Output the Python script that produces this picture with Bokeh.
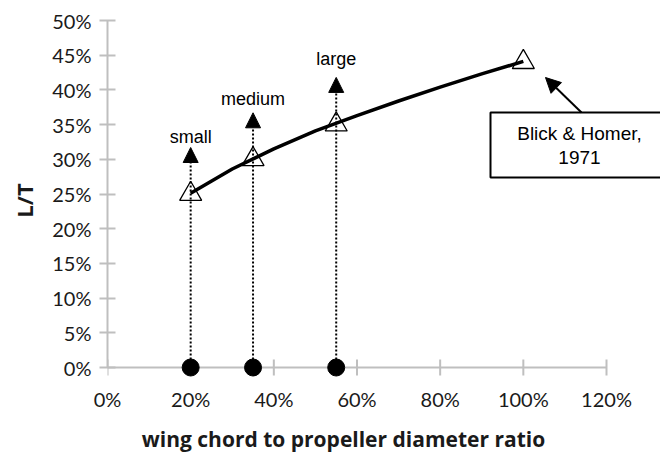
import math
from bokeh.plotting import figure
from bokeh.layouts import column
from bokeh.models import (Range1d, FixedTicker, NumeralTickFormatter, Arrow, NormalHead,
                          BoxAnnotation, Label, ColumnDataSource)
from bokeh.core.properties import value
from bokeh.embed import file_html
from bokeh.resources import INLINE

# ---------------- data ----------------
x_ticks = [0.0, 0.2, 0.4, 0.6, 0.8, 1.0, 1.2]
y_ticks = [0.0, 0.05, 0.10, 0.15, 0.20, 0.25, 0.30, 0.35, 0.40, 0.45, 0.50]

point_x = [0.20, 0.35, 0.55, 1.00]
point_y = [0.25, 0.30, 0.35, 0.44]

fit_x = [0.20, 0.30, 0.40, 0.50, 0.60, 0.70, 0.80, 0.90, 1.00]
fit_y = [0.251, 0.286, 0.315, 0.341, 0.363, 0.384, 0.404, 0.423, 0.441]

size_x = [0.20, 0.35, 0.55]
size_names = ["small", "medium", "large"]
arrow_tip_y = [0.317, 0.367, 0.418]

source_text = ["Blick & Homer,", "1971"]

x_title = "wing chord to propeller diameter ratio"
y_title = "L/T"

# ---------------- layout (pixels) ----------------
W, H = 660, 452
TH = 30                    # height of the strip holding the x title
MH = H - TH                # main figure height
X0PX, X12PX = 107, 606     # pixel of x=0 and x=1.2
Y0PX, Y50PX = 367, 20      # pixel of y=0 and y=0.5
FB = 380                   # frame bottom pixel
px_x = (X12PX - X0PX) / 1.2
px_y = (Y0PX - Y50PX) / 0.5
x_end = (W - X0PX) / px_x
y_start = -(FB - Y0PX) / px_y
name_offsets = [-11, -14, -18]   # label baseline offsets above arrow tips (px)
X_TITLE_CX = 343
X_TITLE_BASE_IN_STRIP = 14       # baseline height above the strip's bottom (px)


def dx(px):  # pixel -> data x
    return (px - X0PX) / px_x


def dy(py):  # pixel -> data y
    return (Y0PX - py) / px_y


GRAY = "#bfbfbf"
TXT = "#1a1a1a"
TICK_FONT = "Lato"
TITLE_FONT = "Open Sans"
ANN_FONT = "Liberation Sans"

x_range = Range1d(0, x_end)
p = figure(width=W, height=MH, x_range=x_range, y_range=Range1d(y_start, 0.5),
           output_backend="svg", toolbar_location=None,
           min_border_left=X0PX, min_border_right=0, min_border_top=Y50PX,
           min_border_bottom=MH - FB)
p.xgrid.visible = False
p.ygrid.visible = False
p.outline_line_color = None
p.background_fill_color = "white"
p.border_fill_color = "white"

# y axis
ya = p.yaxis[0]
ya.ticker = FixedTicker(ticks=y_ticks)
ya.formatter = NumeralTickFormatter(format="0%")
ya.bounds = (0, 0.5)
ya.axis_line_color = GRAY
ya.axis_line_width = 2
ya.major_tick_line_color = GRAY
ya.major_tick_line_width = 2
ya.major_tick_in = 8
ya.major_tick_out = 8
ya.minor_tick_line_color = None
ya.major_label_text_font = TICK_FONT
ya.major_label_text_font_size = "20px"
ya.major_label_text_color = TXT
ya.major_label_standoff = 8
ya.axis_label = y_title
ya.axis_label_text_font = TITLE_FONT
ya.axis_label_text_font_style = "bold"
ya.axis_label_text_font_size = "22px"
ya.axis_label_text_color = TXT
ya.axis_label_standoff = 10

# x axis (labels only; line and ticks drawn at y=0)
xa = p.xaxis[0]
xa.ticker = FixedTicker(ticks=x_ticks)
xa.formatter = NumeralTickFormatter(format="0%")
xa.axis_line_color = None
xa.major_tick_line_color = None
xa.minor_tick_line_color = None
xa.major_tick_in = 0
xa.major_tick_out = 0
xa.major_label_text_font = TICK_FONT
xa.major_label_text_font_size = "20px"
xa.major_label_text_color = TXT
xa.major_label_standoff = 6

p.line(x=[x_ticks[0], x_ticks[-1]], y=[0, 0], line_color=GRAY, line_width=2)
p.scatter(x=x_ticks, y=[0] * len(x_ticks), marker="dash", size=16, angle=math.pi / 2,
          line_color=GRAY, line_width=2)

# markers and curve
p.scatter(x=point_x, y=point_y, marker="triangle", size=22, fill_color="white",
          line_color="black", line_width=1.3)
p.line(x=fit_x, y=fit_y, line_color="black", line_width=3.5)
p.scatter(x=size_x, y=[0] * len(size_x), marker="circle", size=17, fill_color="black",
          line_color="black")

# dotted arrows
src = ColumnDataSource(dict(x=size_x, y0=[0] * len(size_x), y1=arrow_tip_y,
                            name=size_names, off=name_offsets))
p.add_layout(Arrow(end=NormalHead(size=15, fill_color="black", line_color="black", line_width=1),
                   x_start="x", y_start="y0", x_end="x", y_end="y1", source=src,
                   line_color="black", line_width=2, line_dash="2 2"))
p.text(x="x", y="y1", text="name", source=src, text_font=value(ANN_FONT),
       text_font_size="18px", text_align="center", text_baseline="alphabetic",
       y_offset="off", text_color="black")

# callout
p.add_layout(BoxAnnotation(left=dx(490), right=dx(661), top=dy(112), bottom=dy(177),
                           fill_color="white", fill_alpha=1, line_color="black",
                           line_alpha=1, line_width=2, level="annotation"))
p.add_layout(Arrow(end=NormalHead(size=15, fill_color="black", line_color="black", line_width=1),
                   x_start=dx(581), y_start=dy(112), x_end=dx(545), y_end=dy(77),
                   line_color="black", line_width=2))
p.add_layout(Label(x=dx(579), y=dy(133), text=source_text[0], text_font=ANN_FONT,
                   text_font_size="19px", text_align="center", text_baseline="middle",
                   text_color="black"))
p.add_layout(Label(x=dx(579), y=dy(157), text=source_text[1], text_font=ANN_FONT,
                   text_font_size="19px", text_align="center", text_baseline="middle",
                   text_color="black"))

# x title strip (frame aligned with the main plot, shares its x range)
t = figure(width=W, height=TH, x_range=x_range, y_range=Range1d(0, TH),
           output_backend="svg", toolbar_location=None, min_border=0,
           min_border_left=X0PX)
t.axis.visible = False
t.xgrid.visible = False
t.ygrid.visible = False
t.outline_line_color = None
t.background_fill_color = "white"
t.border_fill_color = "white"
t.text(x=[dx(X_TITLE_CX)], y=[X_TITLE_BASE_IN_STRIP], text=[x_title],
       text_font=value(TITLE_FONT), text_font_style="bold", text_font_size="21px",
       text_color=TXT, text_align="center", text_baseline="alphabetic")

layout = column(p, t, spacing=0)
open("out.html", "w").write(file_html(layout, INLINE))
